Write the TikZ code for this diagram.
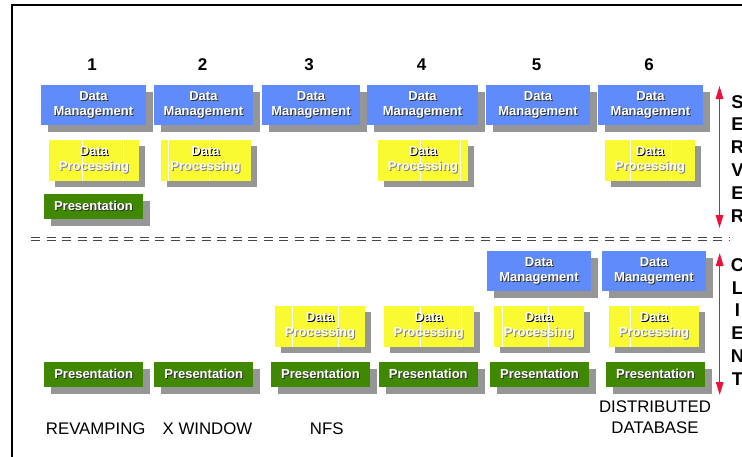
\documentclass[tikz,border=0pt]{standalone}
\usepackage{fontspec}
\setmainfont{Liberation Sans}
\usetikzlibrary{shadows,arrows.meta}

\definecolor{dmblue}{RGB}{95,140,250}
\definecolor{dpyellow}{RGB}{250,250,50}
\definecolor{prgreen}{RGB}{64,136,0}
\definecolor{shade}{RGB}{150,150,150}
\definecolor{arrowred}{RGB}{240,16,60}
\definecolor{dashgray}{RGB}{70,70,70}

% white lettering with an offset dark copy underneath
\newcommand{\emb}[2][black!80]{\leavevmode\rlap{\kern1pt\raisebox{-1pt}{\textcolor{#1}{#2}}}\textcolor{white}{#2}}

\tikzset{
  layer/.style={inner sep=0pt, align=center,
    font=\bfseries\fontsize{13}{15}\selectfont},
  dm/.style={layer, fill=dmblue, minimum width=#1, minimum height=40pt,
    drop shadow={shadow xshift=7pt, shadow yshift=-7pt, fill=shade, opacity=1}},
  dm/.default=104pt,
  dp/.style 2 args={layer, fill=dpyellow, minimum width=90pt, minimum height=41pt,
    drop shadow={shadow xshift=6pt, shadow yshift=-6pt, fill=shade, opacity=1},
    path picture={
      \draw[white, line width=1pt]
        ([xshift=#1]path picture bounding box.south west) -- ([xshift=#1]path picture bounding box.north west)
        ([xshift=#2]path picture bounding box.south west) -- ([xshift=#2]path picture bounding box.north west);}},
  pr/.style={layer, fill=prgreen, minimum width=99pt, minimum height=25pt,
    drop shadow={shadow xshift=7pt, shadow yshift=-7pt, fill=shade, opacity=1}},
  colnum/.style={font=\bfseries\fontsize{17}{17}\selectfont},
  caption/.style={font=\fontsize{16.8}{21}\selectfont, align=center},
  sideletter/.style={font=\bfseries\fontsize{18.5}{18.5}\selectfont, inner sep=0pt},
  span/.style={arrowred, line width=1.3pt,
    {Triangle[width=7.5pt,length=13pt]}-{Triangle[width=7.5pt,length=13pt]}},
  divider/.style={dashgray, line width=1pt, dash pattern=on 9.3pt off 6.2pt}
}

\newcommand{\DM}{\emb{Data}\\\emb{Management}}
\newcommand{\DP}{\emb[black]{Data}\\\emb[black!50]{Processing}}
\newcommand{\PR}{\emb{Presentation}}

\begin{document}
\begin{tikzpicture}[x=1pt, y=-1pt]
  \useasboundingbox (0,0) rectangle (742,456);
  \fill[white] (0,0) rectangle (742,456);

  % frame edges
  \draw[line width=2pt] (743,5) -- (12,5) -- (12,457);

  % column numbers
  \node[colnum] (n1) at (92,65) {1};
  \node[colnum] (n2) at (202.7,65) {2};
  \node[colnum] (n3) at (309,65) {3};
  \node[colnum] (n4) at (421.7,65) {4};
  \node[colnum] (n5) at (536.7,65) {5};
  \node[colnum] (n6) at (649,65) {6};

  % server side
  \node[dm=104.7pt] (sdm1) at (93.4,105) {\DM};
  \node[dm=98.7pt]  (sdm2) at (203.4,105) {\DM};
  \node[dm=98pt]    (sdm3) at (311,105) {\DM};
  \node[dm=111pt]   (sdm4) at (422.5,105) {\DM};
  \node[dm=104pt]   (sdm5) at (538,105) {\DM};
  \node[dm=104.7pt] (sdm6) at (650.4,105) {\DM};

  \node[dp={33.3pt}{74.7pt}] (sdp1) at (94,160.7) {\DP};
  \node[dp={8.3pt}{49.3pt}]  (sdp2) at (205.5,160.7) {\DP};
  \node[dp={42.7pt}{82.7pt}] (sdp4) at (422.9,160.7) {\DP};
  \node[dp={25pt}{66.7pt}]   (sdp6) at (650,160.7) {\DP};

  \node[pr] (spr1) at (93.4,206.5) {\PR};

  % server / client boundary
  \draw[divider] (31,237.3) -- (730,237.3);
  \draw[divider] (31,240.2) -- (730,240.2);

  % client side
  \node[dm=104pt]   (cdm5) at (539,271) {\DM};
  \node[dm=103.7pt] (cdm6) at (653.9,271) {\DM};

  \node[dp={17.7pt}{63.7pt}] (cdp3) at (320,326.2) {\DP};
  \node[dp={36.7pt}{77.7pt}] (cdp4) at (428.7,326.2) {\DP};
  \node[dp={8.7pt}{54.7pt}]  (cdp5) at (538.9,326.2) {\DP};
  \node[dp={21.7pt}{62.7pt}] (cdp6) at (654,326.2) {\DP};

  \node[pr] (cpr1) at (93.7,374.3) {\PR};
  \node[pr] (cpr2) at (203.7,374.3) {\PR};
  \node[pr] (cpr3) at (320.5,374.3) {\PR};
  \node[pr] (cpr4) at (428.3,374.3) {\PR};
  \node[pr] (cpr5) at (539.5,374.3) {\PR};
  \node[pr] (cpr6) at (655.5,374.3) {\PR};

  % column captions
  \node[caption] (cap1) at (95.7,428.3) {REVAMPING};
  \node[caption] (cap2) at (207.5,428.3) {X WINDOW};
  \node[caption] (cap3) at (326.7,428.3) {NFS};
  \node[caption] (cap6) at (655,417.2) {DISTRIBUTED\\DATABASE};

  % extent arrows
  \coordinate (stop) at (719.5,86);
  \coordinate (sbot) at (719.5,228);
  \coordinate (ctop) at (719.7,253);
  \coordinate (cbot) at (719.7,395);
  \draw[span] (stop) -- (sbot);
  \draw[span] (ctop) -- (cbot);

  % vertical side labels
  \foreach \l [count=\i] in {S,E,R,V,E,R}
    \node[sideletter] (srv\i) at (737.5,{101.7+22.8*(\i-1)}) {\l};
  \foreach \l [count=\i] in {C,L,I,E,N,T}
    \node[sideletter] (cli\i) at (737.5,{265+22.8*(\i-1)}) {\l};
\end{tikzpicture}
\end{document}
